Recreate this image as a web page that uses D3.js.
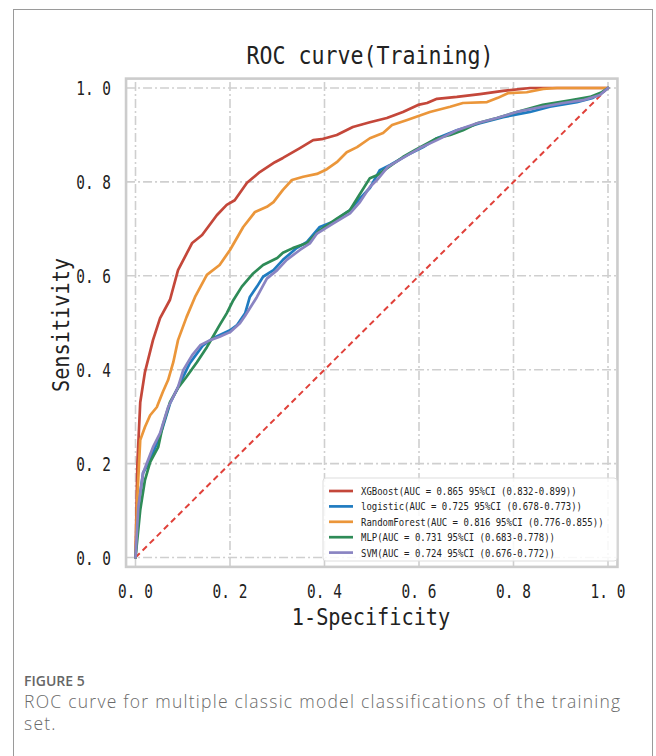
<!DOCTYPE html>
<html><head><meta charset="utf-8">
<script src="https://cdn.jsdelivr.net/npm/d3@7"></script>
<style>body{margin:0;background:#fff}svg{display:block}</style>
</head><body>
<svg id="c" width="656" height="756"></svg>
<script>
const titleText = "ROC curve(Training)";
const xLabel = "1-Specificity";
const yLabel = "Sensitivity";
const tickValues = [0, 0.2, 0.4, 0.6, 0.8, 1.0];
const tickLabels = ["0. 0", "0. 2", "0. 4", "0. 6", "0. 8", "1. 0"];
const seriesNames = ["XGBoost", "logistic", "RandomForest", "MLP", "SVM"];
const legendLabels = [
  "XGBoost(AUC = 0.865 95%CI (0.832-0.899))",
  "logistic(AUC = 0.725 95%CI (0.678-0.773))",
  "RandomForest(AUC = 0.816 95%CI (0.776-0.855))",
  "MLP(AUC = 0.731 95%CI (0.683-0.778))",
  "SVM(AUC = 0.724 95%CI (0.676-0.772))"
];
const seriesColors = ["#c4473a", "#1f7bc0", "#eb963a", "#2e8b57", "#8a84c2"];

const xgboostFpr = [0,0.004,0.01,0.02,0.037,0.052,0.073,0.09,0.12,0.141,0.172,0.193,0.21,0.236,0.263,0.295,0.312,0.348,0.376,0.394,0.426,0.46,0.496,0.532,0.566,0.598,0.617,0.638,0.68,0.729,0.778,0.835,1];
const xgboostTpr = [0,0.2,0.33,0.395,0.463,0.51,0.549,0.612,0.67,0.687,0.729,0.751,0.761,0.798,0.821,0.842,0.851,0.872,0.889,0.891,0.9,0.917,0.927,0.936,0.949,0.964,0.968,0.977,0.981,0.987,0.994,1.0,1.0];

const logisticFpr = [0,0.006,0.016,0.031,0.045,0.058,0.073,0.094,0.115,0.143,0.164,0.2,0.215,0.232,0.242,0.257,0.27,0.292,0.312,0.341,0.363,0.39,0.418,0.454,0.475,0.496,0.517,0.539,0.575,0.609,0.638,0.68,0.729,0.778,0.835,0.877,0.934,0.968,0.989,1];
const logisticTpr = [0,0.108,0.18,0.208,0.243,0.278,0.328,0.371,0.414,0.452,0.467,0.484,0.495,0.52,0.555,0.577,0.598,0.612,0.634,0.659,0.672,0.704,0.715,0.74,0.765,0.787,0.825,0.836,0.857,0.874,0.893,0.91,0.925,0.938,0.949,0.96,0.97,0.979,0.991,1];

const rfFpr = [0,0.004,0.01,0.02,0.031,0.045,0.058,0.069,0.08,0.09,0.108,0.126,0.151,0.178,0.2,0.228,0.253,0.278,0.292,0.312,0.331,0.355,0.384,0.405,0.426,0.447,0.469,0.496,0.524,0.543,0.575,0.623,0.666,0.693,0.744,0.767,0.788,0.828,0.863,0.892,1];
const rfTpr = [0,0.13,0.25,0.278,0.303,0.32,0.353,0.378,0.416,0.463,0.512,0.555,0.602,0.623,0.655,0.704,0.736,0.747,0.757,0.783,0.804,0.811,0.817,0.827,0.842,0.863,0.874,0.893,0.904,0.921,0.932,0.949,0.96,0.968,0.97,0.979,0.989,0.991,0.998,1.0,1.0];

const mlpFpr = [0,0.01,0.02,0.031,0.048,0.058,0.073,0.09,0.108,0.13,0.151,0.162,0.178,0.193,0.207,0.225,0.249,0.27,0.3,0.312,0.333,0.363,0.39,0.426,0.454,0.471,0.496,0.511,0.532,0.566,0.592,0.638,0.666,0.693,0.723,0.765,0.807,0.862,0.92,0.962,0.987,1];
const mlpTpr = [0,0.101,0.165,0.203,0.235,0.282,0.331,0.361,0.385,0.416,0.448,0.467,0.495,0.52,0.548,0.577,0.605,0.623,0.638,0.649,0.659,0.67,0.697,0.722,0.74,0.768,0.808,0.814,0.829,0.853,0.868,0.893,0.9,0.91,0.925,0.936,0.949,0.964,0.974,0.981,0.991,1];

const svmFpr = [0,0.006,0.016,0.037,0.052,0.069,0.09,0.101,0.12,0.137,0.158,0.178,0.2,0.221,0.232,0.242,0.257,0.278,0.3,0.32,0.348,0.369,0.384,0.418,0.454,0.475,0.496,0.511,0.534,0.566,0.602,0.638,0.68,0.723,0.765,0.807,0.862,0.905,0.947,0.983,1];
const svmTpr = [0,0.108,0.18,0.235,0.265,0.32,0.363,0.399,0.431,0.452,0.463,0.47,0.48,0.499,0.515,0.531,0.555,0.594,0.612,0.634,0.655,0.669,0.69,0.711,0.733,0.757,0.789,0.804,0.832,0.851,0.872,0.889,0.91,0.925,0.936,0.949,0.96,0.968,0.974,0.985,1];

const seriesX = [xgboostFpr, logisticFpr, rfFpr, mlpFpr, svmFpr];
const seriesY = [xgboostTpr, logisticTpr, rfTpr, mlpTpr, svmTpr];
const diagonal = [0, 1];

const captionHead = "FIGURE 5";
const captionLines = ["ROC curve for multiple classic model classifications of the training", "set."];

const svg = d3.select("#c");
const mono = "'DejaVu Sans Mono', monospace";

svg.append("rect").attr("x", 13.5).attr("y", 9.5).attr("width", 639).attr("height", 760)
  .attr("fill", "none").attr("stroke", "#9a9a9a").attr("stroke-width", 1);

const x = d3.scaleLinear().domain([0, 1]).range([135.5, 608]);
const y = d3.scaleLinear().domain([0, 1]).range([557.5, 88]);
const pad = 0.02;

const gridDash = "9,3,2,3";
const g = svg.append("g");
g.selectAll(".vg").data(tickValues).join("line")
  .attr("x1", d => x(d)).attr("x2", d => x(d))
  .attr("y1", y(-pad)).attr("y2", y(1 + pad))
  .attr("stroke", "#cfcfcf").attr("stroke-width", 1.6).attr("stroke-dasharray", gridDash);
g.selectAll(".hg").data(tickValues).join("line")
  .attr("y1", d => y(d)).attr("y2", d => y(d))
  .attr("x1", x(-pad)).attr("x2", x(1 + pad))
  .attr("stroke", "#cfcfcf").attr("stroke-width", 1.6).attr("stroke-dasharray", gridDash);

g.append("rect").attr("x", x(-pad)).attr("y", y(1 + pad))
  .attr("width", x(1 + pad) - x(-pad)).attr("height", y(-pad) - y(1 + pad))
  .attr("fill", "none").attr("stroke", "#cccccc").attr("stroke-width", 2.6);

g.append("line").attr("x1", x(diagonal[0])).attr("y1", y(diagonal[0]))
  .attr("x2", x(diagonal[1])).attr("y2", y(diagonal[1]))
  .attr("stroke", "#e0413a").attr("stroke-width", 2).attr("stroke-dasharray", "6,4");

const line = d3.line().x(d => x(d[0])).y(d => y(d[1]));
seriesNames.forEach((name, i) => {
  const pts = seriesX[i].map((v, j) => [v, seriesY[i][j]]);
  g.append("path").datum(pts).attr("d", line).attr("fill", "none")
    .attr("stroke", seriesColors[i]).attr("stroke-width", 2.7)
    .attr("stroke-linejoin", "round").attr("stroke-linecap", "round");
});

function condensed(parent, str, size, perChar, px, py, anchor, rotate) {
  const k = perChar / (0.602 * size);
  const grp = parent.append("g")
    .attr("transform", `translate(${px},${py})` + (rotate ? ` rotate(${rotate})` : "") + ` scale(${k},1)`);
  return grp.append("text").text(str).attr("font-family", mono).attr("font-size", size)
    .attr("text-anchor", anchor || "start").attr("fill", "#222");
}

tickValues.forEach((v, i) => {
  condensed(svg, tickLabels[i], 20, 8.7, 111, y(v) + 7, "end");
  condensed(svg, tickLabels[i], 20, 8.7, x(v), 598, "middle");
});

condensed(svg, titleText, 24, 13, 370, 64, "middle");
condensed(svg, xLabel, 23, 12.2, 371, 625, "middle");
condensed(svg, yLabel, 23, 12.2, 69, 325, "middle", -90);

const lg = svg.append("g");
lg.append("rect").attr("x", 323).attr("y", 478).attr("width", 294).attr("height", 83).attr("rx", 3)
  .attr("fill", "#fff").attr("fill-opacity", 0.85).attr("stroke", "#dddddd").attr("stroke-width", 1);
legendLabels.forEach((lab, i) => {
  const cy = 491 + i * 15.4;
  lg.append("line").attr("x1", 329).attr("x2", 353).attr("y1", cy).attr("y2", cy)
    .attr("stroke", seriesColors[i]).attr("stroke-width", 2.7);
  condensed(lg, lab, 11, 5.4, 361, cy + 4, "start");
});

svg.append("text").text(captionHead).attr("x", 24).attr("y", 686)
  .attr("font-family", "'Open Sans', sans-serif").attr("font-size", 14).attr("font-weight", 600).attr("fill", "#666");
captionLines.forEach((t, i) => {
  svg.append("text").text(t).attr("x", 24).attr("y", 708 + i * 22)
    .attr("font-family", "'Open Sans', sans-serif").attr("font-size", 17.5).attr("letter-spacing", 1.25)
    .attr("font-weight", 300).attr("fill", "#6a6a6a");
});
</script>
</body></html>
